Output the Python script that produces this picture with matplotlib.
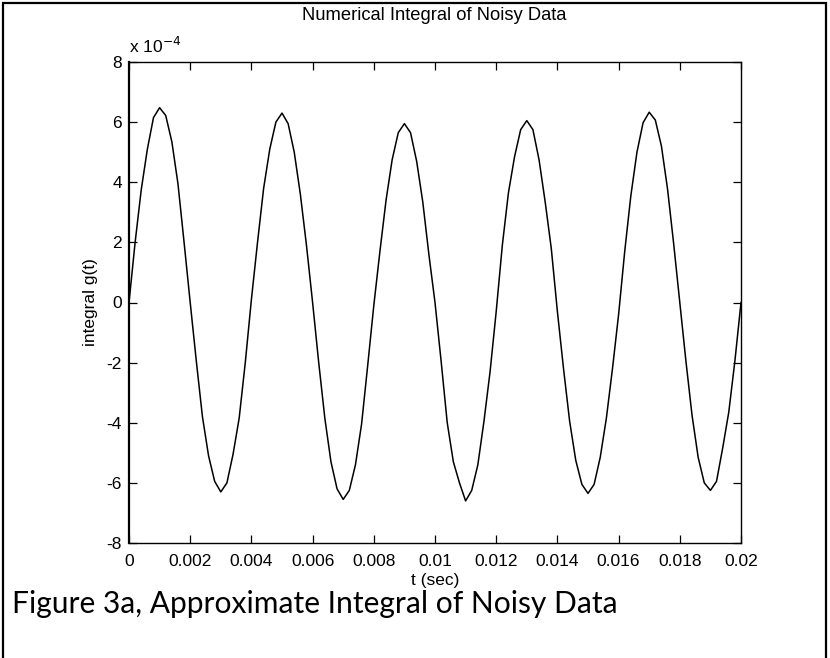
import matplotlib
matplotlib.use("Agg")
import matplotlib.pyplot as plt
from matplotlib.patches import Rectangle
from matplotlib.ticker import FixedLocator, FixedFormatter
import numpy as np

# Time samples (s) of the integrated signal, 0.2 ms spacing over 20 ms
t_start = 0.0
t_end = 0.02
n_samples = 101

# Integral g(t), in units of 1e-4
g_scaled = [
    0.00, 2.00, 3.75, 5.10, 6.15, 6.48, 6.22, 5.35, 3.95, 2.00,
    0.00, -1.95, -3.80, -5.10, -5.95, -6.30, -6.00, -5.05, -3.85, -2.00,
    0.10, 2.00, 3.80, 5.10, 6.00, 6.30, 5.95, 5.00, 3.60, 1.90,
    0.00, -2.00, -3.85, -5.30, -6.20, -6.55, -6.25, -5.40, -4.05, -2.10,
    -0.10, 1.70, 3.40, 4.75, 5.65, 5.95, 5.65, 4.70, 3.35, 1.60,
    0.00, -1.95, -4.00, -5.30, -6.00, -6.60, -6.25, -5.40, -3.95, -2.30,
    -0.30, 1.90, 3.65, 4.85, 5.75, 6.05, 5.75, 4.75, 3.35, 1.80,
    -0.30, -2.20, -3.95, -5.25, -6.05, -6.35, -6.05, -5.15, -3.85, -2.20,
    -0.40, 1.70, 3.55, 5.00, 5.98, 6.33, 6.07, 5.20, 3.77, 1.95,
    0.00, -1.95, -3.75, -5.15, -6.00, -6.25, -5.95, -4.85, -3.65, -1.95,
    0.00,
]
y_scale = 1e-4

x_ticks = [0, 0.002, 0.004, 0.006, 0.008, 0.01, 0.012, 0.014, 0.016, 0.018, 0.02]
x_tick_labels = ["0", "0.002", "0.004", "0.006", "0.008", "0.01",
                 "0.012", "0.014", "0.016", "0.018", "0.02"]
y_ticks_scaled = [-8, -6, -4, -2, 0, 2, 4, 6, 8]
y_tick_labels = ["-8", "-6", "-4", "-2", "0", "2", "4", "6", "8"]

title_text = "Numerical Integral of Noisy Data"
x_label = "t (sec)"
y_label = "integral g(t)"
caption = "Figure 3a, Approximate Integral of Noisy Data"

plt.rcParams["font.family"] = ["Liberation Sans", "DejaVu Sans"]

W, H = 830, 658
fig = plt.figure(figsize=(W / 100, H / 100), dpi=100)
fig.patch.set_facecolor("white")

# page frame (open at the bottom)
fig.add_artist(Rectangle((3 / W, -0.1), (826 - 3) / W, 1.1 - 3 / H,
                         transform=fig.transFigure, fill=False,
                         edgecolor="black", linewidth=1.6))

ax_l, ax_r, ax_t, ax_b = 129, 741, 62, 543
ax = fig.add_axes([ax_l / W, (H - ax_b) / H, (ax_r - ax_l) / W, (ax_b - ax_t) / H])

t = np.linspace(t_start, t_end, n_samples)
g = np.asarray(g_scaled) * y_scale
ax.plot(t, g, color="black", linewidth=1.1)

ax.set_xlim(t_start, t_end)
ax.set_ylim(y_ticks_scaled[0] * y_scale, y_ticks_scaled[-1] * y_scale)
ax.xaxis.set_major_locator(FixedLocator(x_ticks))
ax.xaxis.set_major_formatter(FixedFormatter(x_tick_labels))
ax.yaxis.set_major_locator(FixedLocator([v * y_scale for v in y_ticks_scaled]))
ax.yaxis.set_major_formatter(FixedFormatter(y_tick_labels))

ax.tick_params(direction="in", length=6, width=0.9, top=True, right=True,
               labelsize=12.5, colors="black")
ax.tick_params(axis="x", pad=8)
ax.tick_params(axis="y", pad=5)
for s in ax.spines.values():
    s.set_linewidth(1.0)
ax.spines["left"].set_linewidth(1.6)

ax.set_xlabel(x_label, fontsize=12.5, labelpad=3)
ax.set_ylabel(y_label, fontsize=12.5, labelpad=6)

fig.text(434 / W, 1 - 15 / H, title_text, fontsize=13.2,
         ha="center", va="center")

ax.text(0.0, 1.012, r"x 10$^{-4}$", transform=ax.transAxes, fontsize=12.5,
        ha="left", va="bottom")

fig.text(12 / W, 1 - 613 / H, caption, fontsize=21.6,
         family=["Lato", "DejaVu Sans"], ha="left", va="baseline")

fig.savefig("out.png", dpi=100, facecolor="white")
